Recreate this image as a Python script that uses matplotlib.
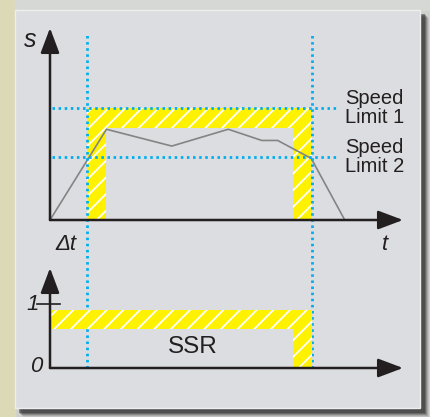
import matplotlib.pyplot as plt
from matplotlib.patches import Rectangle

plt.rcParams['font.family'] = ['Liberation Sans', 'DejaVu Sans']

# speed profile (time units, speed units)
profile_t = [0, 1.6, 3.45, 5.05, 6.0, 6.45, 7.4, 8.35]
profile_v = [0, 81, 66, 81, 71, 71, 55, 0]

speed_limit_1 = 100
speed_limit_2 = 56
limit_labels = ['Speed\nLimit 1', 'Speed\nLimit 2']

delta_t = 1.05      # start of the SSR window
t_change = 7.42     # where the limit changes
ramp_width = 0.55   # width of the hatched ramps
band_low = 82       # lower edge of the hatched band under limit 1

# SSR signal band
ssr_low = 0.61
ssr_high = 0.9
ssr_level = 1

BLUE = '#00aeef'
YELLOW = '#fff200'
BLACK = '#231f20'
GRAY = '#848484'
PANEL = '#dcdde0'

W, H = 431, 417
fig = plt.figure(figsize=(W / 100, H / 100), dpi=100)
fig.patch.set_facecolor('#cfd0cd')

# background and panel (pixel coordinates)
bg = fig.add_axes([0, 0, 1, 1])
bg.set_xlim(0, W)
bg.set_ylim(H, 0)
bg.axis('off')
bg.add_patch(Rectangle((0, 0), 15, H, color='#dcdab6', zorder=0))
bg.add_patch(Rectangle((15, 0), W - 15, 10, color='#d6d8d6', zorder=0))
for i, a in enumerate([0.10, 0.18, 0.28, 0.40, 0.55]):
    bg.add_patch(Rectangle((15 + 8 - i, 10 + 8 - i), 406, 399, color='#3a3a3a',
                           alpha=a, lw=0, zorder=1))
bg.add_patch(Rectangle((15, 10), 405, 398, facecolor=PANEL, edgecolor='#eeeeee',
                       lw=1, zorder=2))

px = 1.0 / W
py = 1.0 / H
ax1 = fig.add_axes([50 * px, (H - 220) * py, 353 * px, 192 * py])
ax2 = fig.add_axes([50 * px, (H - 368) * py, 353 * px, 100 * py])
for ax in (ax1, ax2):
    ax.set_xlim(0, 10)
    ax.axis('off')
    ax.patch.set_alpha(0)
ax1.set_ylim(0, 171.4)
ax2.set_ylim(0, 1.5625)

plt.rcParams['hatch.linewidth'] = 1.3
plt.rcParams['hatch.color'] = 'white'

# hatched window in the speed plot (inverted U)
win_t = [delta_t, delta_t, t_change, t_change, t_change - ramp_width,
         t_change - ramp_width, delta_t + ramp_width, delta_t + ramp_width]
win_v = [0, speed_limit_1, speed_limit_1, 0, 0, band_low, band_low, 0]
ax1.fill(win_t, win_v, facecolor=YELLOW, edgecolor='white', hatch='//', lw=0, zorder=2)

# hatched SSR signal
ssr_t = [0, 0, t_change, t_change, t_change - ramp_width, t_change - ramp_width]
ssr_v = [ssr_low, ssr_high, ssr_high, 0, 0, ssr_low]
ax2.fill(ssr_t, ssr_v, facecolor=YELLOW, edgecolor='white', hatch='//', lw=0, zorder=2)

# speed profile
ax1.plot(profile_t, profile_v, color=GRAY, lw=1.2, zorder=3)

# dotted guide lines
dots = dict(color=BLUE, lw=2.0, linestyle=(0, (0.9, 1.3)), zorder=4, clip_on=False)
for lim in (speed_limit_1, speed_limit_2):
    ax1.plot([0.05, 8.1], [lim, lim], **dots)
fig.canvas.draw()
y_bottom = ax1.transData.inverted().transform(ax2.transData.transform((0, 0)))[1]
for tv in (delta_t, t_change):
    ax1.plot([tv, tv], [y_bottom, 168], **dots)

# axes with arrows
arrow = dict(arrowstyle='-|>,head_length=0.85,head_width=0.32', color=BLACK,
             lw=1.8, mutation_scale=18, shrinkA=0, shrinkB=0)
for ax, top in ((ax1, 171.4), (ax2, 1.5625)):
    ax.annotate('', xy=(10, 0), xytext=(0, 0), arrowprops=arrow, zorder=5)
    ax.annotate('', xy=(0, top), xytext=(0, 0), arrowprops=arrow, zorder=5)
ax2.plot([-0.37, 0.27], [ssr_level, ssr_level], color=BLACK, lw=1.2, clip_on=False, zorder=5)

# labels
ax1.text(-0.57, 161, 's', fontsize=18, style='italic', ha='center', va='center', color=BLACK)
ax1.text(0.45, -22, '\u0394t', fontsize=16, style='italic', ha='center', va='center', color=BLACK)
ax1.text(9.5, -22, 't', fontsize=16, style='italic', ha='center', va='center', color=BLACK)
for lim, lab in zip((speed_limit_1, speed_limit_2), limit_labels):
    ax1.text(8.35, lim, lab, fontsize=14.5, ha='left', va='center', color=BLACK,
             linespacing=1.0)
ax2.text(-0.5, ssr_level, '1', fontsize=16, style='italic', ha='center', va='center', color=BLACK)
ax2.text(-0.4, 0.02, '0', fontsize=16, style='italic', ha='center', va='center', color=BLACK)
ax2.text(4.05, 0.33, 'SSR', fontsize=17.5, ha='center', va='center', color=BLACK)

fig.savefig('out.png', dpi=100, facecolor=fig.get_facecolor())
